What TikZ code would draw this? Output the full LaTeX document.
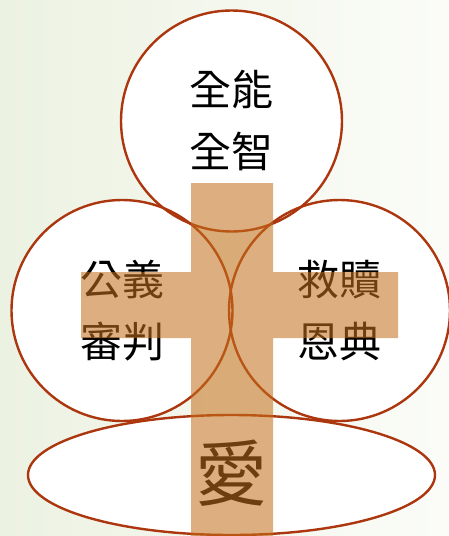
\documentclass[tikz,border=0pt]{standalone}
\usepackage{fontspec}
\newfontfamily\cjk{Noto Sans CJK TC}
\usetikzlibrary{shapes.geometric}
\definecolor{rimred}{RGB}{172,54,14}
\definecolor{crosstan}{RGB}{196,112,28}
\definecolor{bgleft}{RGB}{236,242,226}
\definecolor{bgright}{RGB}{251,252,248}
\tikzset{
  disc/.style={circle, minimum size=221pt, inner sep=0pt},
  oval/.style={ellipse, minimum width=407pt, minimum height=120pt, inner sep=0pt},
  rim/.style={draw=rimred, line width=2.4pt},
  word/.style={font=\cjk\fontsize{42}{62}\selectfont, align=center, inner sep=0pt},
}
\begin{document}
\begin{tikzpicture}[x=1pt, y=-1pt, line join=round, line cap=round]

    % background
    \shade[left color=bgleft, right color=bgright] (0,0) rectangle (448,536);
    \useasboundingbox (0,0) rectangle (448,536);

    % white discs first
    \foreach \name/\x/\y in {top/231.5/121, left/122/310.5, right/339.5/310.5} {
        \node[disc, fill=white] (\name) at (\x,\y) {};
    }
    \node[oval, fill=white] (base) at (231.5,475) {};

    % outlines over all fills
    \foreach \name in {top, left, right} {
        \node[disc, rim] at (\name.center) {};
    }
    \node[oval, rim] at (base.center) {};

    % texts
    \node[word] (topword) at (top.center) {全能\\全智};
    \node[word] (leftword) at (left.center) {公義\\審判};
    \node[word] (rightword) at (right.center) {救贖\\恩典};
    \node[word, font=\cjk\fontsize{72}{80}\selectfont] (baseword) at ([yshift=2pt]base.center) {愛};

    % cross
    \fill[crosstan, fill opacity=0.56] (191,183) rectangle (273,536) (81,272) rectangle (398,338);

\end{tikzpicture}
\end{document}
